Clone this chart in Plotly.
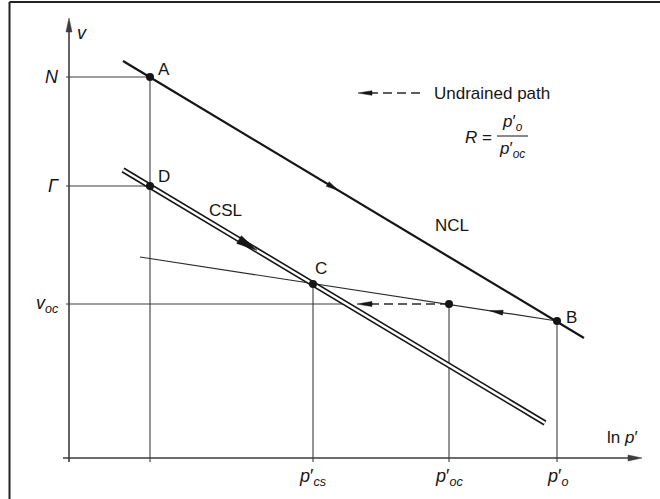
import numpy as np
import plotly.graph_objects as go

# ---------------- data (x = ln p', y = v, arbitrary schematic units) ----------------
point_names = ["A", "B", "C", "D"]
point_lnp = [0.81, 4.88, 2.44, 0.81]
point_v = [3.81, 1.37, 1.74, 2.72]
point_label_dx = [0.14, 0.14, 0.08, 0.14]
point_label_dy = [0.08, 0.04, 0.16, 0.10]

oc_lnp = 3.80          # end of undrained unloading (p'_oc)
oc_v = 1.54            # v_oc

ncl_lnp = [0.54, 5.15]
ncl_v = [3.97, 1.20]
csl_lnp = [0.54, 4.76]
csl_v = [2.88, 0.35]
url_lnp = [0.71, 4.88]  # unloading/reloading line through C and B
url_v = [2.01, 1.37]

v_tick_labels = ["<i>N</i>", "<i>Γ</i>", "<i>v</i><sub><i>oc</i></sub>"]
v_tick_values = [3.81, 2.72, 1.54]
lnp_tick_labels = ["<i>p</i>′<sub><i>cs</i></sub>", "<i>p</i>′<sub><i>oc</i></sub>", "<i>p</i>′<sub><i>o</i></sub>"]
lnp_tick_values = [2.44, 3.80, 4.88]

ncl_arrow_lnp = 2.69
csl_arrow_lnp = 1.88
url_arrow_lnp = 4.21
undrained_arrow_lnp = 2.88

X_RANGE = [-0.69, 5.91]
Y_RANGE = [-0.41, 4.58]
AXIS_C = "#3c3c3c"
INK = "#151515"
FONT = "Liberation Sans, Arial, sans-serif"

fig = go.Figure()


def line(xs, ys, color=AXIS_C, width=1.1, dash=None):
    fig.add_trace(go.Scatter(x=xs, y=ys, mode="lines", hoverinfo="skip", showlegend=False,
                             line=dict(color=color, width=width, dash=dash)))


def head(tx, ty, dx, dy, L, W, color=INK):
    n = np.hypot(dx, dy)
    ux, uy = dx / n, dy / n
    px, py = -uy, ux
    bx, by = tx - ux * L, ty - uy * L
    xs = [tx, bx + px * W / 2, bx - px * W / 2, tx]
    ys = [ty, by + py * W / 2, by - py * W / 2, ty]
    fig.add_trace(go.Scatter(x=xs, y=ys, mode="lines", fill="toself", fillcolor=color,
                             line=dict(color=color, width=0.5), hoverinfo="skip", showlegend=False))


def v_on(lx, ly, x):
    return float(np.interp(x, lx, ly))


# axes
line([0, 0], [-0.04, 4.30], AXIS_C, 1.6)
head(0, 4.40, 0, 1, 0.14, 0.06, AXIS_C)
line([-0.06, 5.62], [0, 0], AXIS_C, 1.6)
head(5.73, 0, 1, 0, 0.14, 0.06, AXIS_C)

# construction lines
line([-0.03, point_lnp[0]], [v_tick_values[0], v_tick_values[0]])
line([-0.03, point_lnp[3]], [v_tick_values[1], v_tick_values[1]])
csl_slope = (csl_v[1] - csl_v[0]) / (csl_lnp[1] - csl_lnp[0])
x_cross = csl_lnp[0] + (oc_v - csl_v[0]) / csl_slope
line([-0.03, x_cross], [oc_v, oc_v])
line([point_lnp[0], point_lnp[0]], [point_v[0], -0.04])
for xv, yv in zip(lnp_tick_values, [point_v[2], oc_v, point_v[1]]):
    line([xv, xv], [yv, -0.04])

# unloading / reloading line
line(url_lnp, url_v, "#2a2a2a", 1.2)
uslope = (url_v[1] - url_v[0]) / (url_lnp[1] - url_lnp[0])
head(url_arrow_lnp, v_on(url_lnp, url_v, url_arrow_lnp), -1, -uslope, 0.13, 0.05)

# undrained path (dashed)
line([oc_lnp, undrained_arrow_lnp + 0.15], [oc_v, oc_v], "#2a2a2a", 1.3, "9px,5px")
head(undrained_arrow_lnp, oc_v, -1, 0, 0.15, 0.05)

# NCL
line(ncl_lnp, ncl_v, INK, 2.2)
nslope = (ncl_v[1] - ncl_v[0]) / (ncl_lnp[1] - ncl_lnp[0])
head(ncl_arrow_lnp, v_on(ncl_lnp, ncl_v, ncl_arrow_lnp), 1, nslope, 0.12, 0.055)

# CSL (double line)
line(csl_lnp, csl_v, INK, 5.6)
line(csl_lnp, csl_v, "white", 2.4)
head(csl_arrow_lnp, v_on(csl_lnp, csl_v, csl_arrow_lnp), 1, csl_slope, 0.21, 0.09)

# points
fig.add_trace(go.Scatter(x=point_lnp + [oc_lnp], y=point_v + [oc_v], mode="markers",
                         marker=dict(color=INK, size=8), hoverinfo="skip", showlegend=False))

ann = []
tf = dict(family=FONT, size=17, color=INK)
tfi = dict(family=FONT, size=18, color=INK)
for n, x, y, dx, dy in zip(point_names, point_lnp, point_v, point_label_dx, point_label_dy):
    ann.append(dict(x=x + dx, y=y + dy, text=n, showarrow=False, font=tf))
ann.append(dict(x=1.56, y=2.48, text="CSL", showarrow=False, font=tf))
ann.append(dict(x=3.83, y=2.33, text="NCL", showarrow=False, font=tf))
for t, v in zip(v_tick_labels, v_tick_values):
    ann.append(dict(x=-0.08, y=v, text=t, showarrow=False, xanchor="right", font=tfi))
for t, x in zip(lnp_tick_labels, lnp_tick_values):
    ann.append(dict(x=x, y=-0.19, text=t, showarrow=False, font=tfi))
ann.append(dict(x=0.13, y=4.25, text="<i>v</i>", showarrow=False, font=tfi))
ann.append(dict(x=5.53, y=0.21, text="ln <i>p</i>′", showarrow=False, font=tf))

# legend
head(2.89, 3.65, -1, 0, 0.14, 0.045)
line([3.51, 3.03], [3.65, 3.65], "#2a2a2a", 1.3, "9px,5px")
ann.append(dict(x=3.63, y=3.65, text="Undrained path", showarrow=False, xanchor="left", font=tf))
ann.append(dict(x=4.25, y=3.21, text="<i>R</i> =", showarrow=False, xanchor="right", font=tf))
ann.append(dict(x=4.43, y=3.35, text="<i>p</i>′<sub><i>o</i></sub>", showarrow=False, font=tf))
ann.append(dict(x=4.43, y=3.08, text="<i>p</i>′<sub><i>oc</i></sub>", showarrow=False, font=tf))
line([4.28, 4.59], [3.22, 3.22], INK, 1.0)

shapes = [
    dict(type="line", xref="x", yref="y", x0=-0.595, x1=-0.595, y0=4.56, y1=Y_RANGE[0] - 0.1,
         line=dict(color="#222222", width=2)),
    dict(type="line", xref="x", yref="y", x0=-0.595, x1=X_RANGE[1] + 0.1, y0=4.56, y1=4.56,
         line=dict(color="#222222", width=2)),
]

fig.update_layout(
    width=660, height=499, autosize=False,
    margin=dict(l=0, r=0, t=0, b=0, pad=0),
    paper_bgcolor="white", plot_bgcolor="white",
    xaxis=dict(range=X_RANGE, visible=False, fixedrange=True),
    yaxis=dict(range=Y_RANGE, visible=False, fixedrange=True),
    annotations=ann, shapes=shapes, showlegend=False,
)

fig.write_html("out.html", config={"displayModeBar": False, "staticPlot": True},
               post_script="document.body.style.margin='0';document.body.style.overflow='hidden';")
